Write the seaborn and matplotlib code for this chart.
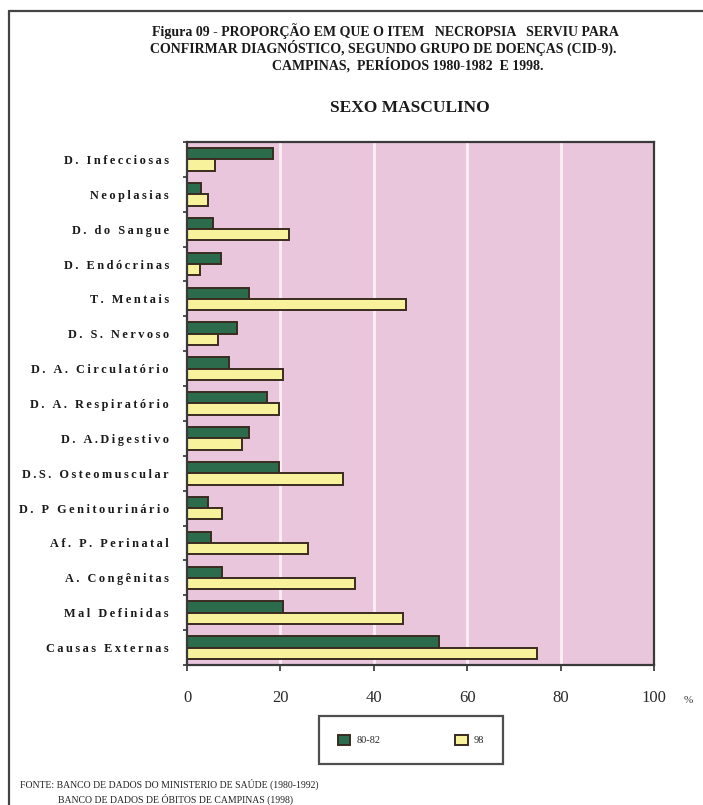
import matplotlib
matplotlib.use("Agg")
import matplotlib.pyplot as plt
from matplotlib.patches import Patch
from matplotlib.lines import Line2D
import seaborn as sns
import pandas as pd
import numpy as np

# ---- data -------------------------------------------------------------
categories = [
    "D. Infecciosas", "Neoplasias", "D. do Sangue", "D. Endócrinas",
    "T. Mentais", "D. S. Nervoso", "D. A. Circulatório", "D. A. Respiratório",
    "D. A.Digestivo", "D.S. Osteomuscular", "D. P Genitourinário",
    "Af. P. Perinatal", "A. Congênitas", "Mal Definidas", "Causas Externas",
]
periodo_80_82 = [18.5, 3.1, 5.6, 7.2, 13.3, 10.6, 9.1, 17.2, 13.3, 19.8,
                 4.6, 5.1, 7.6, 20.6, 54.0]
periodo_98 = [6.0, 4.4, 21.9, 2.8, 46.9, 6.7, 20.5, 19.7, 11.7, 33.3,
              7.4, 26.0, 36.0, 46.3, 75.0]
series_labels = ["80-82", "98"]
x_ticks = [0, 20, 40, 60, 80, 100]

title_lines = [
    "Figura 09 - PROPORÇÃO EM QUE O ITEM   NECROPSIA   SERVIU PARA",
    "CONFIRMAR DIAGNÓSTICO, SEGUNDO GRUPO DE DOENÇAS (CID-9).",
    "CAMPINAS,  PERÍODOS 1980-1982  E 1998.",
]
subtitle = "SEXO MASCULINO"
source_lines = [
    "FONTE: BANCO DE DADOS DO MINISTERIO DE SAÚDE (1980-1992)",
    "BANCO DE DADOS DE ÓBITOS DE CAMPINAS (1998)",
]

df = pd.DataFrame({
    "grupo": categories * 2,
    "periodo": [series_labels[0]] * len(categories) + [series_labels[1]] * len(categories),
    "valor": periodo_80_82 + periodo_98,
})

# ---- style ------------------------------------------------------------
sns.set_theme(style="white")
plt.rcParams["font.family"] = ["Liberation Serif", "DejaVu Serif"]

W, H = 703, 805
fig = plt.figure(figsize=(W / 100, H / 100), dpi=100)
fig.patch.set_facecolor("white")


def fx(px):
    return px / W


def fy(py):
    return 1 - py / H


green = "#2d6b4d"
yellow = "#f8f29c"
edge = "#3a2b1f"
pink = "#eac6dd"

ax_l, ax_r, ax_t, ax_b = 187, 654, 142, 665
ax = fig.add_axes([fx(ax_l), fy(ax_b), fx(ax_r - ax_l), (ax_b - ax_t) / H])
ax.set_facecolor(pink)

sns.barplot(
    data=df, y="grupo", x="valor", hue="periodo", order=categories,
    hue_order=series_labels, palette=[green, yellow], orient="h",
    width=0.65, edgecolor=edge, linewidth=1.4, ax=ax, legend=False,
    saturation=1,
)

ax.set_xlim(0, 100)
ax.set_ylim(len(categories) - 0.5, -0.5)

# vertical white grid at the x ticks
for v in x_ticks[1:-1]:
    ax.axvline(v, color="#fbeff6", lw=2.0, zorder=0.5)

ax.set_xticks(x_ticks)
ax.set_xticklabels([str(t) for t in x_ticks], fontsize=12, color="#2a2a2a")
ax.tick_params(axis="x", direction="out", length=4, width=1.2, color="#333333",
               pad=14, bottom=True)


def spaced(s):
    return "\u2009".join(list(s))


ax.set_yticks(range(len(categories)))
ax.set_yticklabels([spaced(c) for c in categories], fontsize=8.8,
                   fontweight="bold", color="#1a1a1a")
ax.tick_params(axis="y", length=0, pad=13)
ax.set_yticks(np.arange(-0.5, len(categories), 1.0), minor=True)
ax.tick_params(axis="y", which="minor", direction="out", length=3, width=1.2,
               color="#333333", left=True)
ax.set_xlabel("")
ax.set_ylabel("")

for s in ax.spines.values():
    s.set_visible(True)
    s.set_color("#3a3a3a")
    s.set_linewidth(1.6)

# percent sign after the last tick label
fig.text(fx(684), fy(700), "%", fontsize=8, color="#333333",
         ha="left", va="center")

# ---- titles -------------------------------------------------------------
title_y = [31, 48, 65]
title_x = [385, 383, 408]
for txt, xx, yy in zip(title_lines, title_x, title_y):
    fig.text(fx(xx), fy(yy), txt, fontsize=10.0, fontweight="bold",
             ha="center", va="center", color="#1a1a1a")
fig.text(fx(410), fy(108), subtitle, fontsize=12.5, fontweight="bold",
         ha="center", va="center", color="#1a1a1a")

# ---- legend -------------------------------------------------------------
handles = [Patch(facecolor=green, edgecolor=edge, linewidth=1.4),
           Patch(facecolor=yellow, edgecolor=edge, linewidth=1.4)]
leg = fig.legend(handles, series_labels, loc="center",
                 bbox_to_anchor=(fx(411), fy(740)), ncol=2, fontsize=7.5,
                 frameon=True, fancybox=False, edgecolor="#222222",
                 handlelength=1.2, handleheight=1.2, handletextpad=0.6,
                 columnspacing=7.2, borderpad=1.8)
leg.get_frame().set_linewidth(1.6)

# ---- source note --------------------------------------------------------
fig.text(fx(20), fy(784), source_lines[0], fontsize=7, ha="left",
         va="center", color="#222222")
fig.text(fx(58), fy(799), source_lines[1], fontsize=7, ha="left",
         va="center", color="#222222")

# ---- page frame ---------------------------------------------------------
fig.add_artist(Line2D([fx(9), fx(9)], [fy(11), fy(H + 5)], color="#444444",
                      lw=1.6, transform=fig.transFigure))
fig.add_artist(Line2D([fx(9), fx(W + 5)], [fy(11), fy(11)], color="#444444",
                      lw=1.6, transform=fig.transFigure))

fig.savefig("out.png", dpi=100, facecolor="white")
